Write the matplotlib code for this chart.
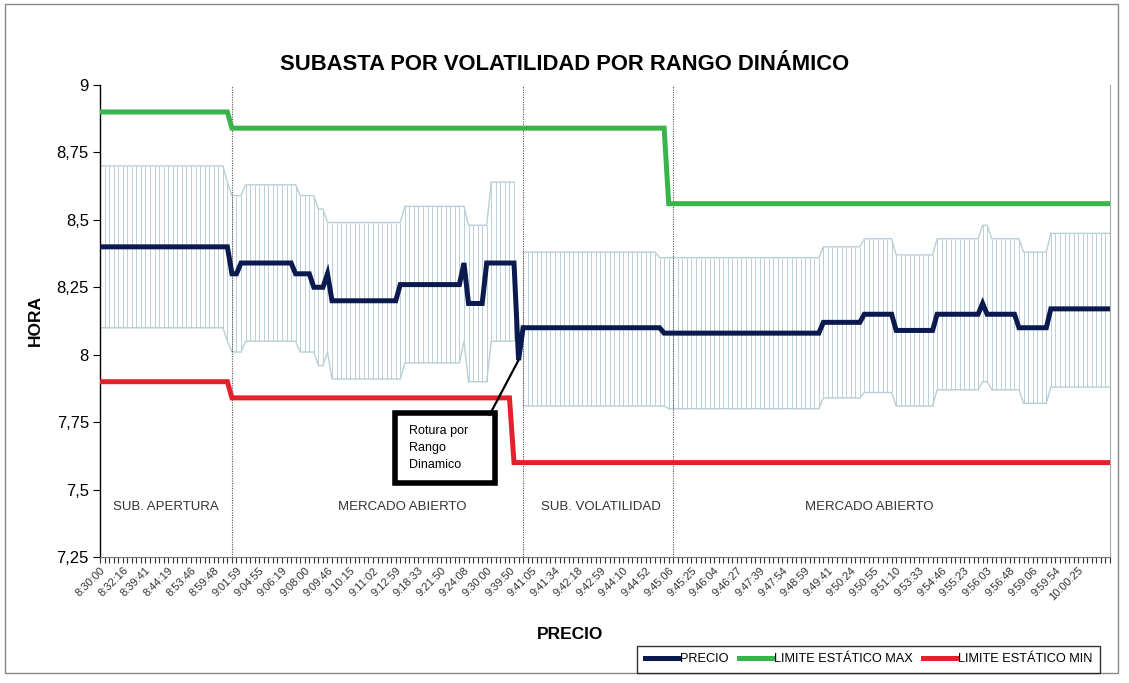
import numpy as np
import matplotlib
matplotlib.use("Agg")
import matplotlib.pyplot as plt
from matplotlib.lines import Line2D
from matplotlib.patches import Rectangle

plt.rcParams['font.family'] = ['Liberation Sans', 'DejaVu Sans']

# --- DATA (run lengths: value, number of points) ---
PRECIO_RUNS = [(8.40, 29), (8.30, 2), (8.34, 12), (8.30, 4), (8.25, 3), (8.30, 1),
               (8.20, 15), (8.26, 14), (8.34, 1), (8.19, 4), (8.34, 7), (7.98, 1),
               (8.10, 31), (8.08, 35), (8.12, 9), (8.15, 7), (8.09, 9), (8.15, 10),
               (8.19, 1), (8.15, 7), (8.10, 7), (8.17, 14)]
MAX_RUNS = [(8.90, 29), (8.84, 96), (8.56, 98)]
MIN_RUNS = [(7.90, 29), (7.84, 62), (7.60, 132)]
# dynamic range band (upper / lower)
HIGH_RUNS = [(8.70, 28), (8.64, 1), (8.59, 3), (8.63, 12), (8.59, 4), (8.54, 2),
             (8.49, 17), (8.55, 14), (8.48, 5), (8.64, 6), (np.nan, 1), (8.38, 30),
             (8.36, 36), (8.40, 9), (8.43, 7), (8.37, 9), (8.43, 10), (8.48, 2),
             (8.43, 7), (8.38, 6), (8.45, 14)]
LOW_RUNS = [(8.10, 28), (8.05, 1), (8.01, 3), (8.05, 12), (8.01, 4), (7.96, 2),
            (8.01, 1), (7.91, 16), (7.97, 13), (8.05, 1), (7.90, 5), (8.05, 6),
            (np.nan, 1), (7.81, 32), (7.80, 34), (7.84, 9), (7.86, 7), (7.81, 9),
            (7.87, 10), (7.90, 2), (7.87, 7), (7.82, 6), (7.88, 14)]

TIME_LABELS = ["8:30:00", "8:32:16", "8:39:41", "8:44:19", "8:53:46", "8:59:48",
               "9:01:59", "9:04:55", "9:06:19", "9:08:00", "9:09:46", "9:10:15",
               "9:11:02", "9:12:59", "9:18:33", "9:21:50", "9:24:08", "9:30:00",
               "9:39:50", "9:41:05", "9:41:34", "9:42:18", "9:42:59", "9:44:10",
               "9:44:52", "9:45:06", "9:45:25", "9:46:04", "9:46:27", "9:47:39",
               "9:47:54", "9:48:59", "9:49:41", "9:50:24", "9:50:55", "9:51:10",
               "9:53:33", "9:54:46", "9:55:23", "9:56:03", "9:56:48", "9:59:06",
               "9:59:54", "10:00:25"]
LABEL_STEP = 5

# phases: separator indices, then (label, label centre index)
PHASE_SEPARATORS = [29, 93, 126]
PHASE_LABELS = [("SUB. APERTURA", 14.5), ("MERCADO ABIERTO", 66.5),
                ("SUB. VOLATILIDAD", 110), ("MERCADO ABIERTO", 169)]

Y_TICKS = [7.25, 7.5, 7.75, 8, 8.25, 8.5, 8.75, 9]
Y_TICK_LABELS = ["7,25", "7,5", "7,75", "8", "8,25", "8,5", "8,75", "9"]


def expand(runs):
    vals = [v for v, n in runs]
    counts = [n for v, n in runs]
    return np.repeat(vals, counts)


precio = expand(PRECIO_RUNS)
lim_max = expand(MAX_RUNS)
lim_min = expand(MIN_RUNS)
band_hi = expand(HIGH_RUNS)
band_lo = expand(LOW_RUNS)
n = len(precio)
x = np.arange(n)

C_PRECIO = "#0b1a4e"
C_MAX = "#38b44a"
C_MIN = "#e3202b"
C_BAND = "#b9cfd7"

fig = plt.figure(figsize=(11.29, 6.83), dpi=100)
ax = fig.add_axes([100 / 1129, 1 - 557 / 683, 1010 / 1129, 472 / 683])

# --- dynamic range band ---
ok = ~np.isnan(band_hi) & ~np.isnan(band_lo)
ax.vlines(x[ok], band_lo[ok], band_hi[ok], color=C_BAND, lw=0.7, zorder=1)
ax.plot(x, band_hi, color=C_BAND, lw=1.0, zorder=1)
ax.plot(x, band_lo, color=C_BAND, lw=1.0, zorder=1)

# --- phase separators ---
for s in PHASE_SEPARATORS:
    ax.axvline(s, color="#555555", lw=0.8, ls=(0, (1, 1.2)), zorder=2)
for txt, cx in PHASE_LABELS:
    ax.text(cx, 7.435, txt, ha="center", va="center", fontsize=9.5, color="#333333")

# --- main series ---
ax.plot(x, lim_max, color=C_MAX, lw=3.6, zorder=4, solid_joinstyle="miter")
ax.plot(x, lim_min, color=C_MIN, lw=3.6, zorder=4, solid_joinstyle="miter")
ax.plot(x, precio, color=C_PRECIO, lw=3.6, zorder=5, solid_joinstyle="miter")

# --- annotation box + pointer to the break ---
brk = int(np.argmin(precio))
ax.add_patch(Rectangle((64.8, 7.524), 22.0, 0.26, fill=True, fc="white", ec="black",
                       lw=4, zorder=6, joinstyle="miter"))
ax.text(68.0, 7.654, "Rotura por\nRango\nDinamico", fontsize=9, ha="left",
        va="center", linespacing=1.55, zorder=7)
ax.annotate("", xy=(brk, precio[brk]), xytext=(85.6, 7.776),
            arrowprops=dict(arrowstyle="-", color="black", lw=1.6,
                            shrinkA=0, shrinkB=0), zorder=6)

# --- axes ---
ax.set_xlim(0, n - 1)
ax.set_ylim(7.25, 9)
ax.set_yticks(Y_TICKS)
ax.set_yticklabels(Y_TICK_LABELS, fontsize=12)
xlabels = [""] * n
for i, lab in enumerate(TIME_LABELS):
    xlabels[i * LABEL_STEP] = lab
ax.set_xticks(x)
ax.set_xticklabels(xlabels, rotation=45, ha="right", rotation_mode="anchor",
                   fontsize=8, color="#333333")
ax.tick_params(axis="x", length=4, width=0.8, color="#333333", pad=2)
ax.tick_params(axis="y", length=5, width=0.8, pad=3)
ax.spines["top"].set_visible(False)
ax.spines["right"].set_color("#aaaaaa")
ax.spines["left"].set_linewidth(1.0)
ax.spines["bottom"].set_color("#777777")

ax.set_ylabel("HORA", fontsize=12.5, fontweight="bold")
ax.yaxis.set_label_coords(-0.057, 0.5)
ax.set_xlabel("PRECIO", fontsize=12.5, fontweight="bold")
ax.xaxis.set_label_coords(0.465, -0.148)

fig.text(565 / 1129, 1 - 65 / 683, "SUBASTA POR VOLATILIDAD POR RANGO DINÁMICO",
         ha="center", va="center", fontsize=15.8, fontweight="bold")

# outer chart frame
fig.patches.append(Rectangle((5 / 1129, 1 - 673 / 683), 1113 / 1129, 669 / 683,
                             transform=fig.transFigure, fill=False, ec="#888888", lw=1))

handles = [Line2D([], [], color=C_PRECIO, lw=3.6),
           Line2D([], [], color=C_MAX, lw=3.6),
           Line2D([], [], color=C_MIN, lw=3.6)]
leg = fig.legend(handles, ["PRECIO", "LIMITE ESTÁTICO MAX", "LIMITE ESTÁTICO MIN"],
                 loc="lower right", bbox_to_anchor=(1100 / 1129, 1 - 673 / 683),
                 ncol=3, fontsize=9.2, frameon=True, fancybox=False, edgecolor="black",
                 handlelength=2.7, handletextpad=0.05, columnspacing=0.8,
                 borderpad=0.6, borderaxespad=0)
leg.get_frame().set_linewidth(1.0)

fig.savefig("out.png", dpi=100)
